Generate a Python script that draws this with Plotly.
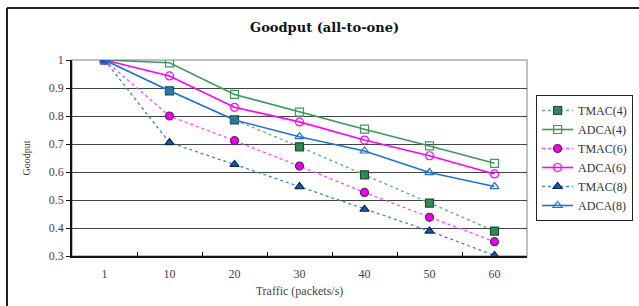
import plotly.graph_objects as go

categories = ["1", "10", "20", "30", "40", "50", "60"]
tmac4 = [1.0, 0.89, 0.786, 0.69, 0.59, 0.489, 0.389]
adca4 = [1.0, 0.99, 0.877, 0.814, 0.753, 0.693, 0.631]
tmac6 = [1.0, 0.80, 0.712, 0.621, 0.527, 0.438, 0.351]
adca6 = [1.0, 0.943, 0.831, 0.779, 0.714, 0.658, 0.593]
tmac8 = [1.0, 0.705, 0.627, 0.548, 0.467, 0.389, 0.302]
adca8 = [1.0, 0.89, 0.786, 0.726, 0.675, 0.598, 0.548]
y_ticks = [0.3, 0.4, 0.5, 0.6, 0.7, 0.8, 0.9, 1.0]
y_tick_text = ["0.3", "0.4", "0.5", "0.6", "0.7", "0.8", "0.9", "1"]

SERIF = "Liberation Serif, DejaVu Serif, serif"

series = [
    ("TMAC(4)", tmac4, "#5fae7d", "dot", "square", "#2e8b57", "#1e4d33"),
    ("ADCA(4)", adca4, "#3a9a5c", "solid", "square-open", "#3a9a5c", "#3a9a5c"),
    ("TMAC(6)", tmac6, "#ff44ff", "dot", "circle", "#ee00ee", "#662266"),
    ("ADCA(6)", adca6, "#ff00ff", "solid", "circle-open", "#ff00ff", "#ff00ff"),
    ("TMAC(8)", tmac8, "#3a82d8", "dot", "triangle-up", "#0d5bb5", "#0a2a55"),
    ("ADCA(8)", adca8, "#1f72d0", "solid", "triangle-up-open", "#1f72d0", "#1f72d0"),
]

fig = go.Figure()
for name, vals, lc, dash, sym, fc, oc in series:
    fig.add_trace(go.Scatter(
        x=categories, y=vals, name=name, mode="lines+markers",
        line=dict(color=lc, width=1.6 if dash == "solid" else 1.3, dash=dash),
        marker=dict(symbol=sym, size=8, color=fc, line=dict(color=oc, width=1.2)),
        hoverinfo="skip",
    ))

fig.update_layout(
    width=639, height=306,
    margin=dict(l=72, r=112, t=60, b=50, autoexpand=False),
    paper_bgcolor="white", plot_bgcolor="white",
    font=dict(family=SERIF, color="#333"),
    title=dict(text="<b>Goodput (all-to-one)</b>", x=0.508, xanchor="center",
               y=1 - 27 / 306, yanchor="middle",
               font=dict(family="DejaVu Serif, serif", size=13, color="#111")),
    showlegend=True,
    legend=dict(x=1.020, xanchor="left", y=0.5, yanchor="middle",
                bordercolor="#222", borderwidth=1, bgcolor="white",
                font=dict(family=SERIF, size=12, color="#333"),
                tracegroupgap=0, itemwidth=31),
    shapes=[
        dict(type="rect", xref="paper", yref="paper", x0=0, x1=1, y0=0, y1=1,
             line=dict(color="#aaa", width=1.5), layer="below"),
        dict(type="line", xref="paper", yref="paper",
             x0=(7 - 72) / 455, x1=(7 - 72) / 455, y0=(256 - 8) / 196, y1=-1,
             line=dict(color="#222", width=2)),
        dict(type="line", xref="paper", yref="paper",
             x0=(7 - 72) / 455, x1=1.5, y0=(256 - 8) / 196, y1=(256 - 8) / 196,
             line=dict(color="#222", width=2)),
    ],
)

fig.update_xaxes(
    type="category", range=[-0.5, 6.5], automargin=False,
    showline=True, linecolor="#111", linewidth=1.5,
    showgrid=False, zeroline=False,
    ticks="inside", tickson="boundaries", ticklen=4, tickcolor="#111",
    tickfont=dict(family=SERIF, size=12, color="#444"),
    ticklabelstandoff=6,
    title=dict(text="Traffic (packets/s)", font=dict(family=SERIF, size=12, color="#444"),
               standoff=6),
)
fig.update_yaxes(
    range=[0.3, 1.0], tickvals=y_ticks, ticktext=y_tick_text, automargin=False,
    showline=True, linecolor="#111", linewidth=1.5,
    showgrid=True, gridcolor="#444", gridwidth=1, zeroline=False,
    ticks="outside", ticklen=4, tickcolor="#111",
    tickfont=dict(family=SERIF, size=12, color="#444"),
    title=dict(text="Goodput", font=dict(family=SERIF, size=10, color="#333"),
               standoff=16),
)

fig.write_html("out.html", config={"displayModeBar": False},
               post_script="document.body.style.margin='0';")
